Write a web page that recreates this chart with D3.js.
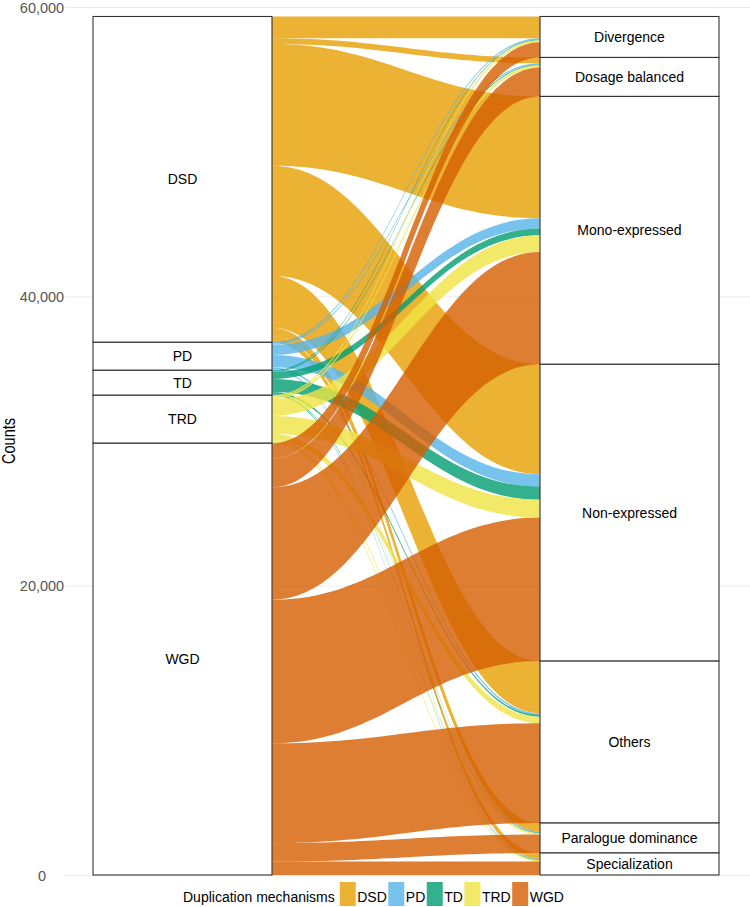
<!DOCTYPE html>
<html>
<head>
<meta charset="utf-8">
<script src="https://cdn.jsdelivr.net/npm/d3@7"></script>
<style>
  body { margin: 0; background: #fff; }
  svg { display: block; font-family: "Liberation Sans", Arial, Helvetica, sans-serif; }
</style>
</head>
<body>
<script>
// duplication mechanisms (left axis) and expression fates (right axis)
var mechanisms = ["DSD", "PD", "TD", "TRD", "WGD"];
var fates = ["Divergence", "Dosage balanced", "Mono-expressed", "Non-expressed",
             "Others", "Paralogue dominance", "Specialization"];

// counts per mechanism, in the order of fates
var dsdCounts = [1500, 400, 8422, 7600, 3600, 600, 400];
var pdCounts  = [90, 80, 700, 854, 120, 50, 40];
var tdCounts  = [60, 60, 480, 907, 120, 50, 50];
var trdCounts = [130, 150, 1150, 1236, 450, 100, 100];
var wgdCounts = [1053, 2004, 7763, 9921, 6902, 1272, 930];

var yTicks = [0, 20000, 40000, 60000];
var colors = ["#E69F00", "#56B4E9", "#009E73", "#F0E442", "#D55E00"];

var counts = [dsdCounts, pdCounts, tdCounts, trdCounts, wgdCounts];

var width = 750;
var height = 907;

var svg = d3.select("body")
    .append("svg")
    .attr("width", width)
    .attr("height", height);

var y = d3.scaleLinear().domain([0, 60000]).range([875, 7]);
var x = d3.scalePoint().domain(["mechanism", "fate"]).range([182.5, 629.5]);
var stratumWidth = 179;
var color = d3.scaleOrdinal().domain(mechanisms).range(colors);

// grid + tick labels
var yAxis = svg.append("g")
    .attr("transform", "translate(65,0)")
    .call(d3.axisLeft(y).tickValues(yTicks).tickSize(-685).tickFormat(d3.format(",")));
yAxis.select(".domain").remove();
yAxis.selectAll("line").style("stroke", "#ebebeb").style("stroke-width", 1);
yAxis.selectAll("text")
    .attr("x", -23)
    .attr("dy", "0.35em")
    .attr("text-anchor", "middle")
    .style("font-size", "14.5px")
    .style("font-family", "'Liberation Sans', Arial, sans-serif")
    .style("fill", "#555");

svg.append("text")
    .attr("transform", "translate(15," + ((y(0) + y(60000)) / 2) + ") rotate(-90)")
    .attr("text-anchor", "middle")
    .attr("textLength", 46)
    .attr("lengthAdjust", "spacingAndGlyphs")
    .style("font-size", "18px")
    .style("fill", "#000")
    .text("Counts");

// build strata and flows
var mechTotals = counts.map(function(row) { return d3.sum(row); });
var fateTotals = fates.map(function(f, j) { return d3.sum(counts, function(row) { return row[j]; }); });
var grand = d3.sum(mechTotals);

var leftStrata = [], rightStrata = [];
var acc = grand;
mechanisms.forEach(function(m, i) {
    leftStrata.push({ name: m, top: acc, bottom: acc - mechTotals[i] });
    acc -= mechTotals[i];
});
acc = grand;
fates.forEach(function(f, j) {
    rightStrata.push({ name: f, top: acc, bottom: acc - fateTotals[j] });
    acc -= fateTotals[j];
});

var flows = [];
var leftOffset = leftStrata.map(function(s) { return s.top; });
var rightOffset = rightStrata.map(function(s) { return s.top; });
// left lodes ordered by fate, right lodes ordered by mechanism
var leftPos = {}, rightPos = {};
mechanisms.forEach(function(m, i) {
    fates.forEach(function(f, j) {
        leftPos[i + "-" + j] = [leftOffset[i], leftOffset[i] - counts[i][j]];
        leftOffset[i] -= counts[i][j];
    });
});
fates.forEach(function(f, j) {
    mechanisms.forEach(function(m, i) {
        rightPos[i + "-" + j] = [rightOffset[j], rightOffset[j] - counts[i][j]];
        rightOffset[j] -= counts[i][j];
    });
});
mechanisms.forEach(function(m, i) {
    fates.forEach(function(f, j) {
        flows.push({ mech: m, fate: f, value: counts[i][j],
                     l: leftPos[i + "-" + j], r: rightPos[i + "-" + j] });
    });
});

var x0 = x("mechanism") + stratumWidth / 2;
var x1 = x("fate") - stratumWidth / 2;

function flowPath(d) {
    var k = 0.42 * (x1 - x0);
    var p = d3.path();
    p.moveTo(x0, y(d.l[0]));
    p.bezierCurveTo(x0 + k, y(d.l[0]), x1 - k, y(d.r[0]), x1, y(d.r[0]));
    p.lineTo(x1, y(d.r[1]));
    p.bezierCurveTo(x1 - k, y(d.r[1]), x0 + k, y(d.l[1]), x0, y(d.l[1]));
    p.closePath();
    return p.toString();
}

svg.append("g").selectAll("path")
    .data(flows)
    .enter()
    .append("path")
    .attr("d", flowPath)
    .style("fill", function(d) { return color(d.mech); })
    .style("fill-opacity", 0.8)
    .style("stroke", "none");

function drawStrata(data, cx) {
    var g = svg.append("g");
    g.selectAll("rect")
        .data(data)
        .enter()
        .append("rect")
        .attr("x", cx - stratumWidth / 2)
        .attr("width", stratumWidth)
        .attr("y", function(d) { return y(d.top); })
        .attr("height", function(d) { return y(d.bottom) - y(d.top); })
        .style("fill", "#fff")
        .style("stroke", "#333")
        .style("stroke-width", 1.1);
    g.selectAll("text")
        .data(data)
        .enter()
        .append("text")
        .attr("x", cx)
        .attr("y", function(d) { return (y(d.top) + y(d.bottom)) / 2; })
        .attr("dy", "0.35em")
        .attr("text-anchor", "middle")
        .style("font-size", "14px")
        .style("fill", "#000")
        .text(function(d) { return d.name; });
}
drawStrata(leftStrata, x("mechanism"));
drawStrata(rightStrata, x("fate"));

// legend
var legend = svg.append("g");
var title = legend.append("text")
    .attr("x", 183)
    .attr("y", 902)
    .style("font-size", "14px")
    .style("fill", "#000")
    .text("Duplication mechanisms");
var lx = 183 + title.node().getComputedTextLength() + 5;
mechanisms.forEach(function(m) {
    legend.append("rect")
        .attr("x", lx)
        .attr("y", 882)
        .attr("width", 16)
        .attr("height", 24)
        .style("fill", color(m))
        .style("fill-opacity", 0.8);
    var t = legend.append("text")
        .attr("x", lx + 17.5)
        .attr("y", 902)
        .style("font-size", "14px")
        .style("fill", "#000")
        .text(m);
    lx += 17.5 + t.node().getComputedTextLength() + 1.5;
});
</script>
</body>
</html>
